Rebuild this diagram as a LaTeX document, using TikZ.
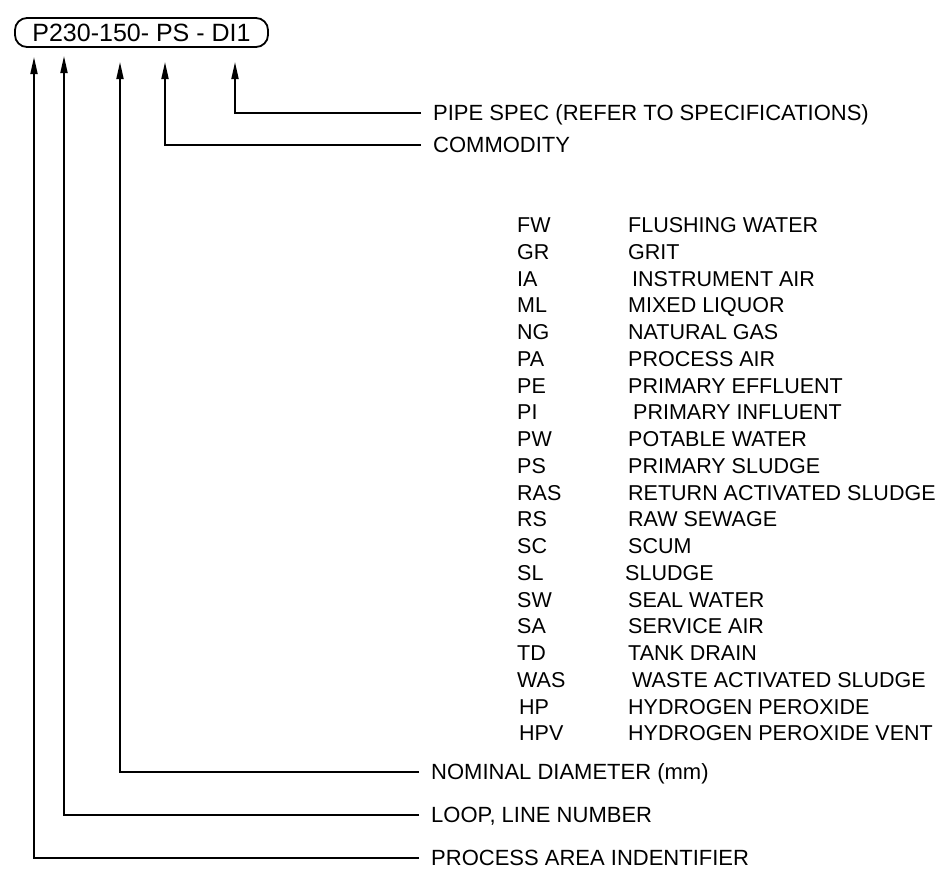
\documentclass[tikz,border=0pt]{standalone}
\usepackage{fontspec}
\setmainfont{Liberation Sans}
\usepackage{tikz}
\usetikzlibrary{arrows.meta,positioning}

\begin{document}
\begin{tikzpicture}[x=1pt,y=-1pt,
    pointer/.style={line width=1.8pt,-{Triangle[width=7pt,length=17pt]}},
    labeltext/.style={anchor=west,inner xsep=12pt,inner ysep=1pt,text height=15pt,text depth=0pt,font=\fontsize{22}{24}\selectfont},
    codetext/.style={anchor=west,inner sep=0pt,text height=15pt,text depth=0pt,font=\fontsize{21.5}{24}\selectfont},
    desctext/.style={codetext}]
        \useasboundingbox (0,0) rectangle (940,873);
        % Draw the line tag
        \node[draw,line width=1.8pt,rounded corners=12pt,minimum width=253pt,minimum height=29pt,inner sep=0pt,
              font=\fontsize{25}{27}\selectfont] (tag) at (141.5,32.5) {P230-150- PS - DI1};
        %arrow tips under the tag
        \coordinate (tipA) at (34,57);
        \coordinate (tipL) at (64,56);
        \coordinate (tipD) at (120,62);
        \coordinate (tipC) at (165,62);
        \coordinate (tipS) at (235,62);
        % Add the labels
        \node[labeltext] (spec) at (421,113) {PIPE SPEC (REFER TO SPECIFICATIONS)};
        \node[labeltext] (commodity) at (421,145) {COMMODITY};
        \node[labeltext] (diameter) at (419,772) {NOMINAL DIAMETER (mm)};
        \node[labeltext] (loop) at (419,815) {LOOP, LINE NUMBER};
        \node[labeltext] (area) at (419,858) {PROCESS AREA INDENTIFIER};
        %leaders
        \draw[pointer] (spec.west) -| (tipS);
        \draw[pointer] (commodity.west) -| (tipC);
        \draw[pointer] (diameter.west) -| (tipD);
        \draw[pointer] (loop.west) -| (tipL);
        \draw[pointer] (area.west) -| (tipA);
        % commodity codes
        \node[codetext] (fw) at (517,225) {FW};   \node[desctext] (fwd) at (628,225) {FLUSHING WATER};
        \node[codetext] (gr) at (517,252) {GR};   \node[desctext] (grd) at (628,252) {GRIT};
        \node[codetext] (ia) at (517,279) {IA};   \node[desctext] (iad) at (632,279) {INSTRUMENT AIR};
        \node[codetext] (ml) at (517,305) {ML};   \node[desctext] (mld) at (628,305) {MIXED LIQUOR};
        \node[codetext] (ng) at (517,332) {NG};   \node[desctext] (ngd) at (628,332) {NATURAL GAS};
        \node[codetext] (pa) at (517,359) {PA};   \node[desctext] (pad) at (628,359) {PROCESS AIR};
        \node[codetext] (pe) at (517,386) {PE};   \node[desctext] (ped) at (628,386) {PRIMARY EFFLUENT};
        \node[codetext] (pi) at (517,412) {PI};   \node[desctext] (pid) at (633,412) {PRIMARY INFLUENT};
        \node[codetext] (pw) at (517,439) {PW};   \node[desctext] (pwd) at (628,439) {POTABLE WATER};
        \node[codetext] (ps) at (517,466) {PS};   \node[desctext] (psd) at (628,466) {PRIMARY SLUDGE};
        \node[codetext] (ras) at (517,493) {RAS}; \node[desctext] (rasd) at (628,493) {RETURN ACTIVATED SLUDGE};
        \node[codetext] (rs) at (517,519) {RS};   \node[desctext] (rsd) at (628,519) {RAW SEWAGE};
        \node[codetext] (sc) at (517,546) {SC};   \node[desctext] (scd) at (628,546) {SCUM};
        \node[codetext] (sl) at (517,573) {SL};   \node[desctext] (sld) at (625,573) {SLUDGE};
        \node[codetext] (sw) at (517,600) {SW};   \node[desctext] (swd) at (628,600) {SEAL WATER};
        \node[codetext] (sa) at (517,626) {SA};   \node[desctext] (sad) at (628,626) {SERVICE AIR};
        \node[codetext] (td) at (517,653) {TD};   \node[desctext] (tdd) at (628,653) {TANK DRAIN};
        \node[codetext] (was) at (517,680) {WAS}; \node[desctext] (wasd) at (632,680) {WASTE ACTIVATED SLUDGE};
        \node[codetext] (hp) at (519,707) {HP};   \node[desctext] (hpd) at (628,707) {HYDROGEN PEROXIDE};
        \node[codetext] (hpv) at (519,733) {HPV}; \node[desctext] (hpvd) at (628,733) {HYDROGEN PEROXIDE VENT};
\end{tikzpicture}
\end{document}
